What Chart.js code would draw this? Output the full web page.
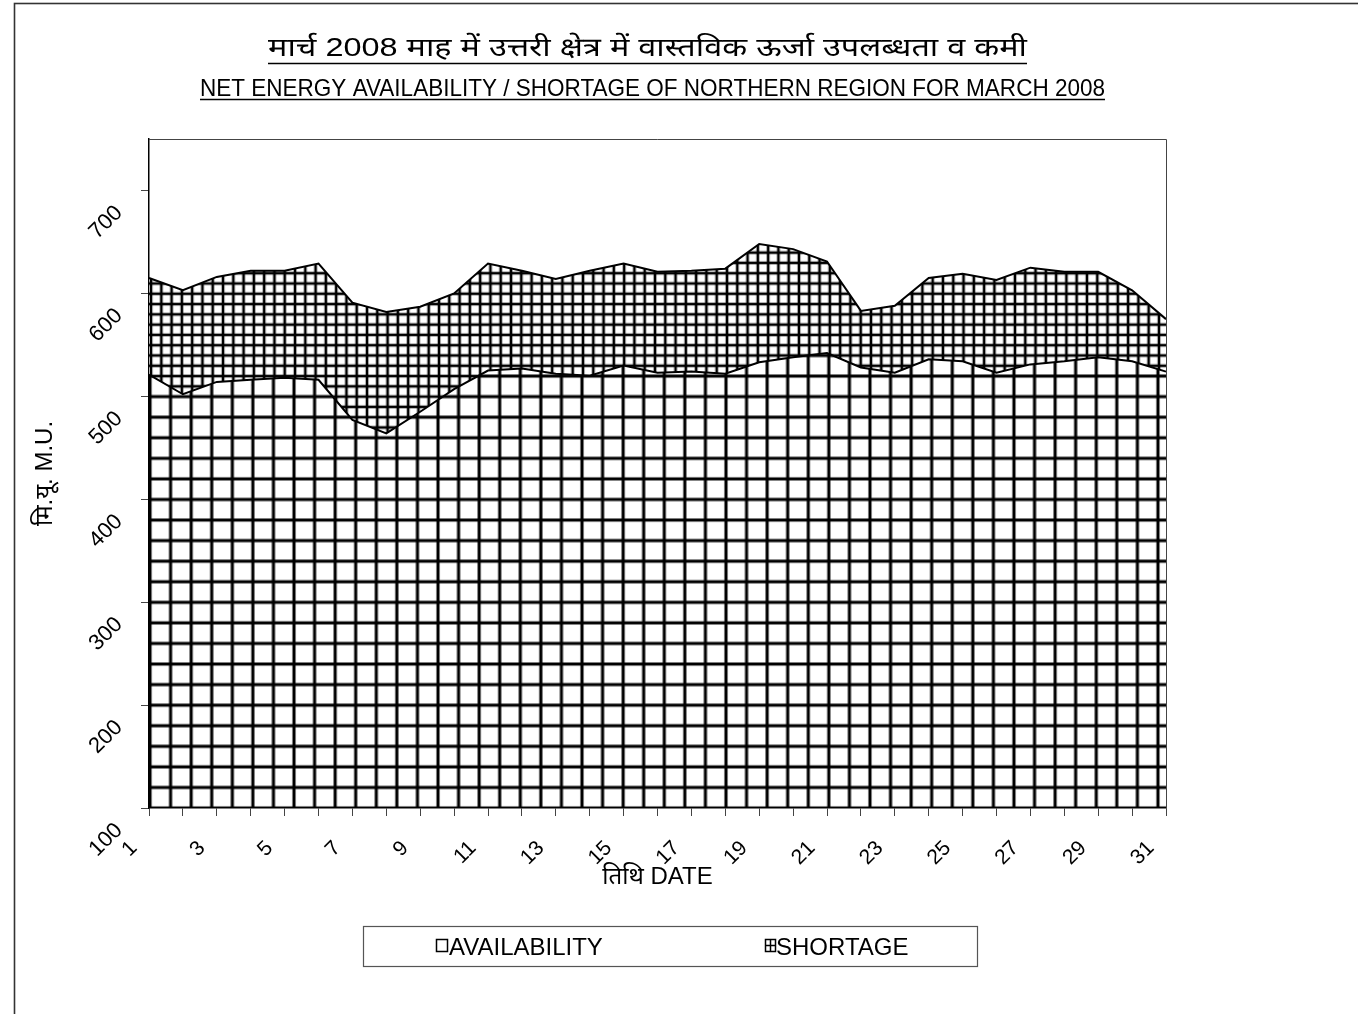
<!DOCTYPE html>
<html>
<head>
<meta charset="utf-8">
<script src="https://cdn.jsdelivr.net/npm/chart.js@4.4.1/dist/chart.umd.min.js"></script>
<style>
html,body{margin:0;padding:0;background:#fff;overflow:hidden}
#wrap{width:1358px;height:1014px;position:relative}
canvas{display:block}
</style>
</head>
<body>
<div id="wrap"><canvas id="c" width="1358" height="1014"></canvas></div>
<script>
// ---- data ----
const days = ['1','2','3','4','5','6','7','8','9','10','11','12','13','14','15','16','17','18','19','20','21','22','23','24','25','26','27','28','29','30','31'];
const availability = [521,502,514,516,518,516,477,464,485,507,525,527,522,520,530,523,524,522,533,538,542,528,523,536,534,523,531,534,538,534,524];
const shortage = [94,101,102,106,104,113,114,118,102,93,104,95,92,102,99,98,98,102,115,105,89,55,65,79,85,90,94,87,83,69,51];
const yTickValues = [100,200,300,400,500,600,700];
const seriesNames = ['AVAILABILITY','SHORTAGE'];
const titleHindi = 'मार्च 2008 माह में उत्तरी क्षेत्र में वास्तविक ऊर्जा उपलब्धता व कमी';
const titleEnglish = 'NET ENERGY AVAILABILITY / SHORTAGE OF NORTHERN REGION FOR MARCH 2008';
const yTitle = 'मि.यू. M.U.';
const xTitle = 'तिथि DATE';

const FONT = "'Liberation Sans', Arial, 'Noto Sans Devanagari', 'Noto Sans', sans-serif";
const canvas = document.getElementById('c');
const ctx = canvas.getContext('2d');

function makeGrid(tile, lw, period, ox, oy) {
  const c = document.createElement('canvas');
  c.width = tile; c.height = tile;
  const g = c.getContext('2d');
  g.fillStyle = '#fff'; g.fillRect(0, 0, tile, tile);
  g.fillStyle = '#000';
  const m = tile / 2;
  g.fillRect(m - lw / 2, 0, lw, tile);
  g.fillRect(0, m - lw / 2, tile, lw);
  const p = ctx.createPattern(c, 'repeat');
  const s = period / tile;
  p.setTransform(new DOMMatrix([s, 0, 0, s, ox - m * s, oy - m * s]));
  return p;
}
const bigGrid = makeGrid(20, 3.0, 20.57, 150, 808);
const smallGrid = makeGrid(10, 2.6, 10.285, 151, 808);

function drawFittedText(g, text, cx, baseline, font, width, underlineY) {
  g.save();
  g.font = font;
  g.fillStyle = '#000';
  g.textBaseline = 'alphabetic';
  const w = g.measureText(text).width;
  const sx = width / w;
  g.translate(cx - width / 2, baseline);
  g.scale(sx, 1);
  g.textAlign = 'left';
  g.fillText(text, 0, 0);
  g.restore();
  g.save();
  g.strokeStyle = '#000';
  g.lineWidth = 1.6;
  g.beginPath();
  g.moveTo(cx - width / 2, underlineY);
  g.lineTo(cx + width / 2, underlineY);
  g.stroke();
  g.restore();
}

const decor = {
  id: 'decor',
  afterDraw(chart) {
    const g = chart.ctx;
    const a = chart.chartArea;
    g.save();
    g.strokeStyle = '#333';
    g.lineWidth = 1.6;
    g.strokeRect(14.5, 3.5, 1400, 1100);
    g.strokeStyle = '#444';
    g.lineWidth = 1;
    g.beginPath();
    g.moveTo(a.left, a.top + 0.5);
    g.lineTo(a.right + 0.5, a.top + 0.5);
    g.lineTo(a.right + 0.5, a.bottom);
    g.stroke();
    g.restore();
    drawFittedText(g, titleHindi, 647.5, 56, "26px " + FONT, 759, 63.5);
    drawFittedText(g, titleEnglish, 652.5, 96, "24px 'Liberation Sans Narrow', 'Liberation Sans', Arial, sans-serif", 905, 99.5);
    g.save();
    g.strokeStyle = '#555';
    g.lineWidth = 1.2;
    g.fillStyle = '#fff';
    g.fillRect(363.5, 926.5, 614, 40);
    g.strokeRect(363.5, 926.5, 614, 40);
    g.strokeStyle = '#000';
    g.lineWidth = 1.5;
    g.strokeRect(436.5, 939.5, 11, 12);
    g.strokeRect(765.5, 939.5, 10, 12);
    g.beginPath();
    g.moveTo(765.5, 945.5); g.lineTo(775.5, 945.5);
    g.moveTo(770.5, 939.5); g.lineTo(770.5, 951.5);
    g.stroke();
    g.fillStyle = '#000';
    g.font = "24px " + FONT;
    g.textBaseline = 'alphabetic';
    g.textAlign = 'left';
    g.fillText(seriesNames[0], 449, 955);
    g.fillText(seriesNames[1], 776, 955);
    g.restore();
  }
};

new Chart(canvas, {
  type: 'line',
  data: {
    labels: days,
    datasets: [
      {
        label: seriesNames[0],
        data: availability,
        borderColor: '#000',
        borderWidth: 2,
        backgroundColor: bigGrid,
        fill: 'start',
        pointRadius: 0,
        tension: 0
      },
      {
        label: seriesNames[1],
        data: shortage,
        borderColor: '#000',
        borderWidth: 2,
        backgroundColor: smallGrid,
        fill: '-1',
        pointRadius: 0,
        tension: 0
      }
    ]
  },
  options: {
    responsive: false,
    devicePixelRatio: 1,
    animation: false,
    layout: { padding: { left: 0, top: 139, right: 192, bottom: 116 } },
    plugins: {
      legend: { display: false },
      title: { display: false },
      tooltip: { enabled: false },
      filler: { propagate: false }
    },
    scales: {
      x: {
        type: 'category',
        offset: false,
        grid: {
          display: true,
          drawOnChartArea: false,
          drawTicks: true,
          tickLength: 8,
          tickColor: '#444',
          offset: false
        },
        border: { display: true, color: '#000', width: 1.5 },
        ticks: {
          autoSkip: false,
          minRotation: 45,
          maxRotation: 45,
          padding: 20,
          labelOffset: -15,
          color: '#000',
          font: { family: FONT, size: 21 },
          callback: function (v, i) { return i % 2 === 0 ? this.getLabelForValue(v) : ''; }
        },
        title: {
          display: true,
          text: xTitle,
          color: '#000',
          font: { family: FONT, size: 24 },
          padding: { top: 0, bottom: 6 }
        },
        afterFit: (s) => { s.height = 90; }
      },
      y: {
        type: 'linear',
        stacked: true,
        min: 100,
        max: 750,
        grid: {
          display: true,
          drawOnChartArea: false,
          drawTicks: true,
          tickLength: 8,
          tickColor: (c) => (c.tick && yTickValues.includes(c.tick.value)) ? '#444' : 'rgba(0,0,0,0)'
        },
        border: { display: true, color: '#000', width: 1.5 },
        ticks: {
          stepSize: 100,
          minRotation: 45,
          maxRotation: 45,
          padding: 22,
          labelOffset: 19,
          color: '#000',
          font: { family: FONT, size: 22 },
          callback: (v) => yTickValues.includes(v) ? String(v) : ''
        },
        title: {
          display: true,
          text: yTitle,
          color: '#000',
          font: { family: FONT, size: 24 },
          padding: { top: 31, bottom: 0 }
        },
        afterFit: (s) => { s.width = 149; }
      }
    }
  },
  plugins: [decor]
});
</script>
</body>
</html>
